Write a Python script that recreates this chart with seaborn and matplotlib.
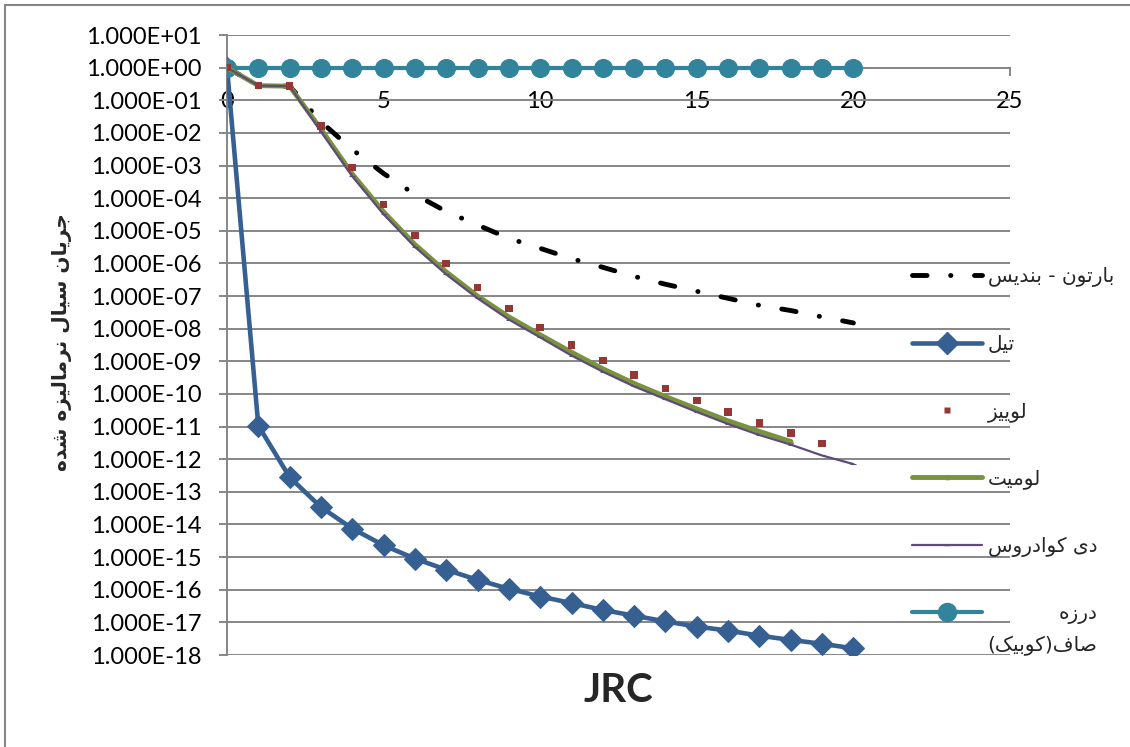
import numpy as np
import pandas as pd
import matplotlib
matplotlib.use("Agg")
import matplotlib.pyplot as plt
from matplotlib.lines import Line2D
from matplotlib.patches import Rectangle
from matplotlib.ticker import FuncFormatter, NullLocator, FixedLocator
import seaborn as sns

# ---------------------------------------------------------------- data
jrc = list(range(0, 21))

barton_bandis = [1.0, 0.28, 0.27, 2.2e-2, 3.1e-3, 5.7e-4, 1.3e-4, 3.9e-5, 1.5e-5,
                 5.9e-6, 2.9e-6, 1.4e-6, 7.6e-7, 4.0e-7, 2.3e-7, 1.4e-7, 8.5e-8,
                 5.2e-8, 3.6e-8, 2.3e-8, 1.5e-8]
tiel = [1.0, 1.07e-11, 2.8e-13, 3.4e-14, 7.5e-15, 2.3e-15, 9.0e-16, 4.1e-16, 2.0e-16,
        1.07e-16, 6.2e-17, 3.9e-17, 2.4e-17, 1.6e-17, 1.07e-17, 7.4e-18, 5.6e-18,
        3.9e-18, 2.9e-18, 2.2e-18, 1.6e-18]
louis = [1.0, 0.28, 0.27, 1.6e-2, 8.7e-4, 6.4e-5, 7.1e-6, 1.0e-6, 1.85e-7, 4.1e-8,
         1.1e-8, 3.2e-9, 1.05e-9, 3.8e-10, 1.45e-10, 6.3e-11, 2.8e-11, 1.3e-11,
         6.3e-12, 3.0e-12]
lomize = [1.0, 0.28, 0.27, 1.3e-2, 5.5e-4, 3.8e-5, 3.8e-6, 5.5e-7, 1.0e-7, 2.3e-8,
          6.5e-9, 1.9e-9, 5.9e-10, 2.1e-10, 8.3e-11, 3.5e-11, 1.5e-11, 7.1e-12,
          3.5e-12]
de_quadros = [1.0, 0.28, 0.27, 1.1e-2, 4.7e-4, 3.2e-5, 3.2e-6, 4.6e-7, 8.5e-8,
              1.9e-8, 5.4e-9, 1.5e-9, 4.8e-10, 1.7e-10, 6.9e-11, 2.8e-11, 1.2e-11,
              5.5e-12, 2.8e-12, 1.3e-12, 7.1e-13]
cubic = [1.0, 1.0, 1.0, 1.0, 1.0, 1.0, 1.0, 1.0, 1.0, 1.0, 1.0, 1.0, 1.0, 1.0,
         1.0, 1.0, 1.0, 1.0, 1.0, 1.0, 1.0]

series_names = ["بارتون - بندیس", "تیل", "لوییز", "لومیت", "دی کوادروس",
                "درزه\nصاف(کوبیک)"]
y_title = "جریان سیال نرمالیزه شده"
x_title = "JRC"
x_ticks = [0, 5, 10, 15, 20, 25]
y_exponents = list(range(-18, 2))

# ------------------------------------------------- Persian text shaping
# matplotlib has no bidi / contextual shaping, so letters are mapped to their
# presentation forms (isolated, final, initial, medial) and put in visual order.
FORMS = {
    "\u0627": ("\uFE8D", "\uFE8E", None, None),
    "\u0628": ("\uFE8F", "\uFE90", "\uFE91", "\uFE92"),
    "\u062A": ("\uFE95", "\uFE96", "\uFE97", "\uFE98"),
    "\u062C": ("\uFE9D", "\uFE9E", "\uFE9F", "\uFEA0"),
    "\u062F": ("\uFEA9", "\uFEAA", None, None),
    "\u0631": ("\uFEAD", "\uFEAE", None, None),
    "\u0632": ("\uFEAF", "\uFEB0", None, None),
    "\u0633": ("\uFEB1", "\uFEB2", "\uFEB3", "\uFEB4"),
    "\u0634": ("\uFEB5", "\uFEB6", "\uFEB7", "\uFEB8"),
    "\u0635": ("\uFEB9", "\uFEBA", "\uFEBB", "\uFEBC"),
    "\u0641": ("\uFED1", "\uFED2", "\uFED3", "\uFED4"),
    "\u06A9": ("\uFB8E", "\uFB8F", "\uFB90", "\uFB91"),
    "\u0644": ("\uFEDD", "\uFEDE", "\uFEDF", "\uFEE0"),
    "\u0645": ("\uFEE1", "\uFEE2", "\uFEE3", "\uFEE4"),
    "\u0646": ("\uFEE5", "\uFEE6", "\uFEE7", "\uFEE8"),
    "\u0647": ("\uFEE9", "\uFEEA", "\uFEEB", "\uFEEC"),
    "\u0648": ("\uFEED", "\uFEEE", None, None),
    "\u06CC": ("\uFBFC", "\uFBFD", "\uFBFE", "\uFBFF"),
}
ALIASES = {"\u064A": "\u06CC", "\u0643": "\u06A9"}
MIRROR = {"(": ")", ")": "("}


def shape_line(text):
    chars = [ALIASES.get(c, c) for c in text]
    out = []
    for i, c in enumerate(chars):
        forms = FORMS.get(c)
        if forms is None:
            out.append(c)
            continue
        prev = chars[i - 1] if i > 0 else None
        nxt = chars[i + 1] if i + 1 < len(chars) else None
        join_prev = prev in FORMS and FORMS[prev][2] is not None
        join_next = forms[2] is not None and nxt in FORMS
        if join_prev and join_next:
            out.append(forms[3])
        elif join_prev:
            out.append(forms[1])
        elif join_next:
            out.append(forms[2])
        else:
            out.append(forms[0])
    return "".join(MIRROR.get(c, c) for c in reversed(out))


def rtl(text):
    return "\n".join(shape_line(line) for line in text.split("\n"))


# ---------------------------------------------------------------- style
sns.set_theme(style="white")
plt.rcParams["font.family"] = ["Lato", "DejaVu Sans"]

GRID = "#868686"
C_BARTON = "#000000"
C_TIEL = "#376092"
C_LOUIS = "#953735"
C_LOMIZE = "#77933C"
C_QUADROS = "#604A7B"
C_CUBIC = "#31849B"
BARTON_DASH = (3.0, 4.85, 0.05, 4.85)

fig = plt.figure(figsize=(11.30, 7.47), dpi=100)
ax = fig.add_axes([227 / 1130, 1 - 655 / 747, (1010 - 227) / 1130, (655 - 35) / 747])

# ---------------------------------------------------------------- series
ax.set_yscale("log")

sns.lineplot(x=jrc, y=barton_bandis, ax=ax, color=C_BARTON, linewidth=3.5,
             zorder=3, legend=False)
barton_line = ax.lines[-1]
barton_line.set_dashes(BARTON_DASH)
barton_line.set_dash_capstyle("round")

sns.lineplot(x=jrc, y=tiel, ax=ax, color=C_TIEL, linewidth=3.3, marker="D",
             markersize=11.5, markeredgecolor=C_TIEL, zorder=4, legend=False)

sns.lineplot(x=jrc, y=cubic, ax=ax, color=C_CUBIC, linewidth=3.0, marker="o",
             markersize=13, markeredgecolor=C_CUBIC, zorder=5, legend=False)

sns.lineplot(x=jrc[:len(lomize)], y=lomize, ax=ax, color=C_LOMIZE, linewidth=3.5,
             marker="^", markersize=3, markeredgecolor=C_LOMIZE, zorder=6,
             legend=False)

sns.lineplot(x=jrc[:len(de_quadros)], y=de_quadros, ax=ax, color=C_QUADROS,
             linewidth=1.6, marker="_", markersize=4, markeredgecolor=C_QUADROS,
             zorder=7, legend=False)

sns.scatterplot(x=jrc[:len(louis)], y=louis, ax=ax, color=C_LOUIS, marker="s",
                s=30, edgecolor="none", zorder=8, legend=False)

# ---------------------------------------------------------------- axes
ax.set_xlim(0, 25)
ax.set_ylim(10.0 ** -18, 10.0 ** 1)
ax.xaxis.set_major_locator(FixedLocator(x_ticks))
ax.yaxis.set_major_locator(FixedLocator([10.0 ** e for e in y_exponents]))
ax.yaxis.set_minor_locator(NullLocator())
ax.xaxis.set_minor_locator(NullLocator())
ax.yaxis.set_major_formatter(FuncFormatter(lambda v, _: f"{v:.3E}"))
ax.xaxis.set_major_formatter(FuncFormatter(lambda v, _: f"{v:g}"))

ax.grid(axis="y", color=GRID, linewidth=1.4)
ax.grid(axis="x", visible=False)
ax.set_axisbelow(True)

for side in ("top", "right"):
    ax.spines[side].set_visible(False)
ax.spines["left"].set_color(GRID)
ax.spines["left"].set_linewidth(1.4)
ax.spines["bottom"].set_position(("data", 1.0))
ax.spines["bottom"].set_color(GRID)
ax.spines["bottom"].set_linewidth(1.4)

ax.tick_params(axis="y", which="major", direction="out", length=6, width=1.4,
               color=GRID, labelsize=17, pad=12, left=True, labelcolor="black")
ax.tick_params(axis="x", which="major", direction="out", length=6, width=1.4,
               color=GRID, labelsize=17, pad=11, bottom=True, labelcolor="black")
ax.set_xlabel("")
ax.set_ylabel("")

# ---------------------------------------------------------------- titles
fig.text(618 / 1130, 1 - 690 / 747, x_title, fontsize=29, fontweight="bold",
         ha="center", va="center", family=["Lato", "DejaVu Sans"])
fig.text(62 / 1130, 1 - 342 / 747, rtl(y_title), rotation=90, fontsize=14.5,
         fontweight="bold", ha="center", va="center", family=["DejaVu Sans"])

# ---------------------------------------------------------------- legend
handles = [
    Line2D([], [], color=C_BARTON, linewidth=3.5, dashes=BARTON_DASH,
           dash_capstyle="round"),
    Line2D([], [], color=C_TIEL, linewidth=3.3, marker="D", markersize=11.5,
           markeredgecolor=C_TIEL),
    Line2D([], [], color=C_LOUIS, linestyle="none", marker="s", markersize=5,
           markeredgecolor="none"),
    Line2D([], [], color=C_LOMIZE, linewidth=3.5, marker="^", markersize=3),
    Line2D([], [], color=C_QUADROS, linewidth=1.6, marker="_", markersize=4),
    Line2D([], [], color=C_CUBIC, linewidth=3.0, marker="o", markersize=13,
           markeredgecolor=C_CUBIC),
]
leg = fig.legend(handles, [rtl(s) for s in series_names], loc="upper left",
                 bbox_to_anchor=(912 / 1130, 1 - 267 / 747), frameon=False,
                 borderpad=0, borderaxespad=0, handlelength=3.5,
                 handletextpad=0.25, labelspacing=2.38, numpoints=1,
                 prop={"family": "DejaVu Sans", "size": 14.5})
for t in leg.get_texts():
    t.set_multialignment("right")
leg.get_texts()[-1].set_linespacing(1.75)
# the two-line entry keeps its handle level with the first line
leg._legend_handle_box.get_children()[0].get_children()[-1].align = "top"

# chart-area frame
fig.patches.append(Rectangle((5 / 1130, -0.1), 1.2, 1 - 5 / 747 + 0.1,
                             transform=fig.transFigure, fill=False,
                             edgecolor=GRID, linewidth=1.5, zorder=0))

fig.savefig("out.png", dpi=100)
